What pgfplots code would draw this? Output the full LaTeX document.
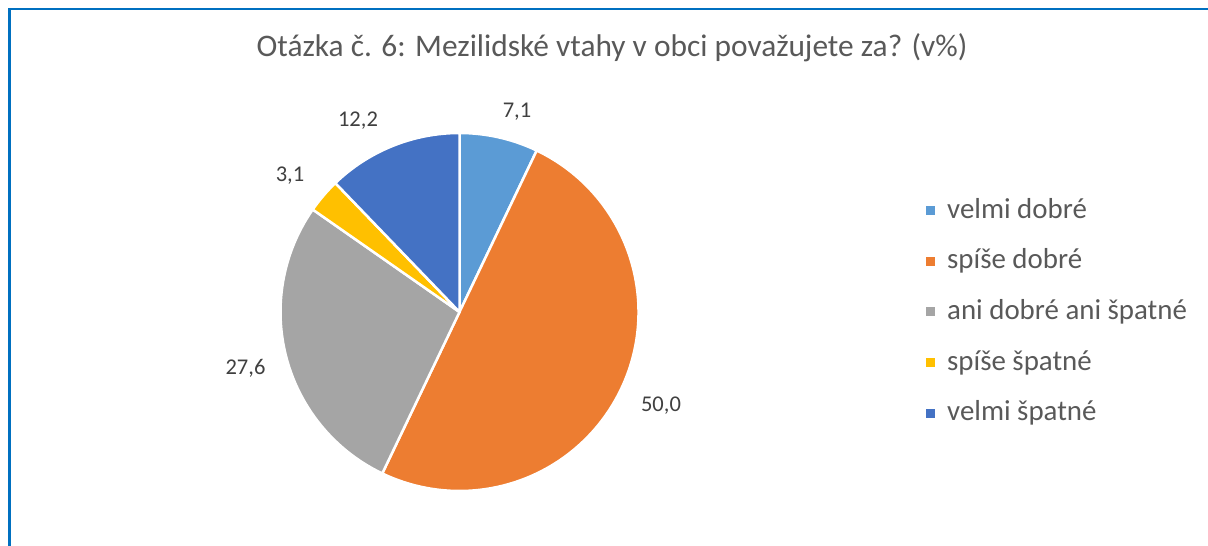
\documentclass[border=0pt]{standalone}
\usepackage{pgfplots}
\pgfplotsset{compat=1.18}
\usepackage{pgfplotstable}
\usepackage{fontspec}
\setmainfont{Carlito}
\definecolor{c0}{HTML}{5B9BD5}
\definecolor{c1}{HTML}{ED7D31}
\definecolor{c2}{HTML}{A5A5A5}
\definecolor{c3}{HTML}{FFC000}
\definecolor{c4}{HTML}{4472C4}
\definecolor{frame}{HTML}{0070C0}
\definecolor{titlegray}{HTML}{595959}
\definecolor{labelgray}{HTML}{404040}
% value, label position (x, baseline y) in picture pixels measured from top-left
\pgfplotstableread{
value lx ly text
7.1  517 118.0 {7,1}
50.0 661 411.7 {50,0}
27.6 245.5 374.0 {27,6}
3.1  290 181.7 {3,1}
12.2 358 126.7 {12,2}
}\piedata
\begin{document}
\begin{tikzpicture}
\begin{axis}[
  x=1bp, y=1bp, xmin=0, xmax=1208, ymin=0, ymax=546,
  hide axis, clip=false, scale only axis,
  legend style={at={(axis cs:926,350)}, anchor=north west, draw=none, fill=none,
    inner sep=0pt, row sep=21.6bp, column sep=0bp,
    font=\fontsize{29}{35}\selectfont, text=titlegray,
    nodes={inner sep=0pt, text height=22bp, text depth=7bp}},
  legend cell align=left,
  legend image code/.code={\fill[#1] (0bp,-4.5bp) rectangle (9bp,4.5bp);},
  /tikz/every odd column/.append style={column sep=12bp},
]
\def\cx{459.5}
\def\cy{234}
\def\R{179}
\def\cum{0}
\pgfplotsforeachungrouped \i in {0,...,4}{%
  \pgfplotstablegetelem{\i}{value}\of\piedata
  \let\val\pgfplotsretval
  \pgfmathsetmacro\a{90-3.6*\cum}%
  \pgfmathsetmacro\b{90-3.6*(\cum+\val)}%
  \edef\temp{\noexpand\fill[c\i, draw=white, line width=2.5bp, line join=round]
    (axis cs:\cx,\cy) -- ++(\a:\R bp) arc[start angle=\a, end angle=\b, radius=\R bp] -- cycle;}%
  \temp
  \pgfplotstablegetelem{\i}{lx}\of\piedata \let\lx\pgfplotsretval
  \pgfplotstablegetelem{\i}{ly}\of\piedata \let\ly\pgfplotsretval
  \pgfplotstablegetelem{\i}{text}\of\piedata \let\lt\pgfplotsretval
  \pgfmathsetmacro\lyy{546-\ly}%
  \edef\temp{\noexpand\node[anchor=base, text=labelgray, inner sep=0pt,
    font=\noexpand\fontsize{22.6}{27}\noexpand\selectfont] at (axis cs:\lx,\lyy) {\lt};}%
  \temp
  \pgfmathsetmacro\cum{\cum+\val}%
}
\addlegendimage{fill=c0, draw=none}
\addlegendentry{velmi dobré}
\addlegendimage{fill=c1, draw=none}
\addlegendentry{spíše dobré}
\addlegendimage{fill=c2, draw=none}
\addlegendentry{ani dobré ani špatné}
\addlegendimage{fill=c3, draw=none}
\addlegendentry{spíše špatné}
\addlegendimage{fill=c4, draw=none}
\addlegendentry{velmi špatné}
\node[text=titlegray, font=\fontsize{31.5}{38}\selectfont, inner sep=0pt]
  at (axis cs:612,498) {Otázka č. 6: Mezilidské vtahy v obci považujete za? (v\%)};
\draw[frame, line width=2.5bp] (axis cs:9.5,0) -- (axis cs:9.5,537) -- (axis cs:1208,537);
\end{axis}
\pgfresetboundingbox
\path[use as bounding box] (0,0) rectangle (1208bp,546bp);
\end{tikzpicture}
\end{document}
